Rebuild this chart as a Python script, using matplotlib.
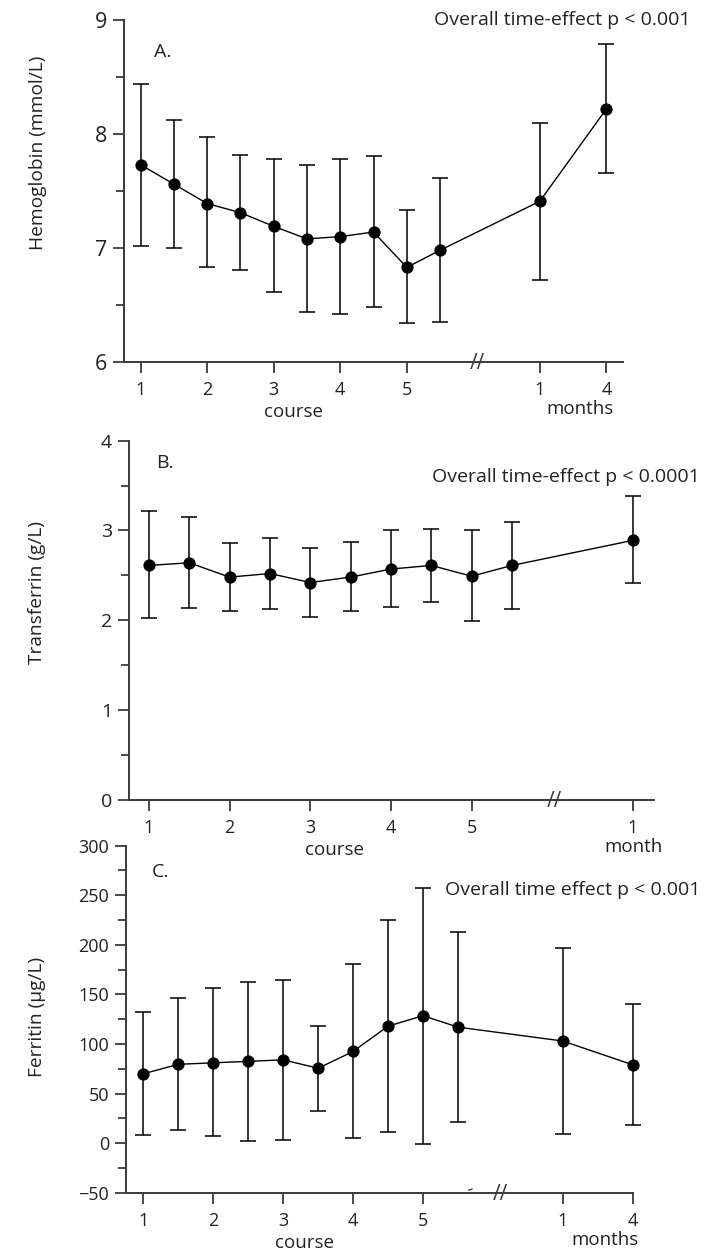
import numpy as np
import matplotlib
matplotlib.use('Agg')
import matplotlib.pyplot as plt
from matplotlib.ticker import MultipleLocator

plt.rcParams['font.family'] = ['Open Sans', 'DejaVu Sans']

# x positions: courses 1..5.5, then follow-up months
x_long = [1, 1.5, 2, 2.5, 3, 3.5, 4, 4.5, 5, 5.5, 7, 8]
x_short = [1, 1.5, 2, 2.5, 3, 3.5, 4, 4.5, 5, 5.5, 7]
tick_pos_long = [1, 2, 3, 4, 5, 7, 8]
tick_lab_long = ['1', '2', '3', '4', '5', '1', '4']
tick_pos_short = [1, 2, 3, 4, 5, 7]
tick_lab_short = ['1', '2', '3', '4', '5', '1']

# A. hemoglobin (mmol/L)
hgb_mean = [7.73, 7.56, 7.39, 7.31, 7.19, 7.08, 7.10, 7.14, 6.83, 6.98, 7.41, 8.22]
hgb_lo = [7.02, 7.00, 6.83, 6.81, 6.61, 6.44, 6.42, 6.48, 6.34, 6.35, 6.72, 7.66]
hgb_hi = [8.44, 8.12, 7.97, 7.82, 7.78, 7.73, 7.78, 7.81, 7.33, 7.61, 8.10, 8.79]

# B. transferrin (g/L)
tf_mean = [2.61, 2.64, 2.48, 2.52, 2.42, 2.48, 2.57, 2.61, 2.49, 2.61, 2.89]
tf_lo = [2.02, 2.14, 2.10, 2.12, 2.04, 2.10, 2.15, 2.20, 1.99, 2.12, 2.41]
tf_hi = [3.22, 3.15, 2.86, 2.92, 2.81, 2.87, 3.00, 3.02, 3.00, 3.09, 3.38]

# C. ferritin (ug/L)
fer_mean = [70, 79.5, 81, 82.5, 84, 75.5, 92.5, 118, 128.5, 117, 103, 79]
fer_lo = [8, 13, 7, 2.5, 3.5, 32, 5.5, 11, -0.5, 21, 9, 18]
fer_hi = [132.5, 146, 156.5, 162.5, 165, 118.5, 181, 225, 257.5, 213, 196.5, 140.5]

W, H = 712, 1255
fig = plt.figure(figsize=(W / 100, H / 100), dpi=100, facecolor='white')

axc = '#3a3a3a'
txt = '#222222'


def box(x0, x1, ytop, ybot):
    return [x0 / W, 1 - ybot / H, (x1 - x0) / W, (ybot - ytop) / H]


def panel(rect, x, m, lo, hi, ylim, major, minor, ticks, labels, ysize,
          xlim_r, brk, later):
    ax = fig.add_axes(rect)
    ax.patch.set_alpha(0)
    m = np.array(m)
    err = [m - np.array(lo), np.array(hi) - m]
    ax.errorbar(x, m, yerr=err, fmt='o-', color='black', ms=7.8, lw=1.0,
                elinewidth=1.1, capsize=5.5, capthick=1.1, clip_on=False)
    ax.set_xlim(0.75, xlim_r)
    ax.set_ylim(*ylim)
    for s in ['top', 'right']:
        ax.spines[s].set_visible(False)
    for s in ['left', 'bottom']:
        ax.spines[s].set_color(axc)
        ax.spines[s].set_linewidth(1.4)
    ax.yaxis.set_major_locator(MultipleLocator(major))
    ax.yaxis.set_minor_locator(MultipleLocator(minor))
    ax.set_xticks(ticks)
    ax.set_xticklabels(labels)
    ax.tick_params(axis='y', which='major', direction='out', length=8,
                   width=1.3, color=axc, labelsize=ysize, labelcolor=txt, pad=4)
    ax.tick_params(axis='y', which='minor', direction='out', length=6,
                   width=1.3, color=axc)
    ax.tick_params(axis='x', direction='out', length=8, width=1.3, color=axc,
                   labelsize=13, labelcolor=txt, pad=6)
    ax.annotate('//', xy=(brk, 0), xycoords=('data', 'axes fraction'),
                xytext=(0, -1), textcoords='offset points',
                ha='center', va='center', fontsize=15, color=axc,
                annotation_clip=False)
    ax.annotate('course', xy=(3.3, 0), xycoords=('data', 'axes fraction'),
                xytext=(0, -36), textcoords='offset points', ha='center',
                va='center', fontsize=13.5, color=txt, annotation_clip=False)
    ax.annotate(later[0], xy=(later[1], 0), xycoords=('data', 'axes fraction'),
                xytext=(0, -34), textcoords='offset points', ha='center',
                va='center', fontsize=13.5, color=txt, annotation_clip=False)
    return ax


axA = panel(box(124, 623, 20, 362), x_long, hgb_mean, hgb_lo, hgb_hi,
            (6, 9), 1, 0.5, tick_pos_long, tick_lab_long, 15.5, 8.25, 6.06,
            ('months', 7.6))
axB = panel(box(128.7, 654, 440.7, 799.7), x_short, tf_mean, tf_lo, tf_hi,
            (0, 4), 1, 0.5, tick_pos_short, tick_lab_short, 14, 7.26, 6.03,
            ('month', 7.0))
axC = panel(box(126, 632.7, 845.7, 1192.7), x_long, fer_mean, fer_lo, fer_hi,
            (-50, 300), 50, 25, tick_pos_long, tick_lab_long, 13, 7.24, 6.1,
            ('months', 7.6))
axC.annotate('-', xy=(5.67, 0), xycoords=('data', 'axes fraction'),
             xytext=(0, 2), textcoords='offset points', ha='center',
             va='center', fontsize=14, rotation=20, color=axc,
             annotation_clip=False)

# y labels
fig.text(38 / W, 1 - 153 / H, 'Hemoglobin (mmol/L)', rotation=90,
         ha='center', va='center', fontsize=13.8, color=txt)
fig.text(37 / W, 1 - 592 / H, 'Transferrin (g/L)', rotation=90,
         ha='center', va='center', fontsize=13.8, color=txt)
fig.text(37 / W, 1 - 1017 / H, 'Ferritin (\u00b5g/L)', rotation=90,
         ha='center', va='center', fontsize=13.8, color=txt)

# panel letters
fig.text(154 / W, 1 - 52 / H, 'A.', ha='left', va='center', fontsize=14, color=txt)
fig.text(156 / W, 1 - 463 / H, 'B.', ha='left', va='center', fontsize=14, color=txt)
fig.text(152 / W, 1 - 872 / H, 'C.', ha='left', va='center', fontsize=14, color=txt)

# p-values
fig.text(690 / W, 1 - 20 / H, 'Overall time-effect p < 0.001', ha='right',
         va='center', fontsize=14, color=txt)
fig.text(700 / W, 1 - 477 / H, 'Overall time-effect p < 0.0001', ha='right',
         va='center', fontsize=14, color=txt)
fig.text(700 / W, 1 - 890 / H, 'Overall time effect p < 0.001', ha='right',
         va='center', fontsize=14, color=txt)

fig.savefig('out.png', dpi=100, facecolor='white')
